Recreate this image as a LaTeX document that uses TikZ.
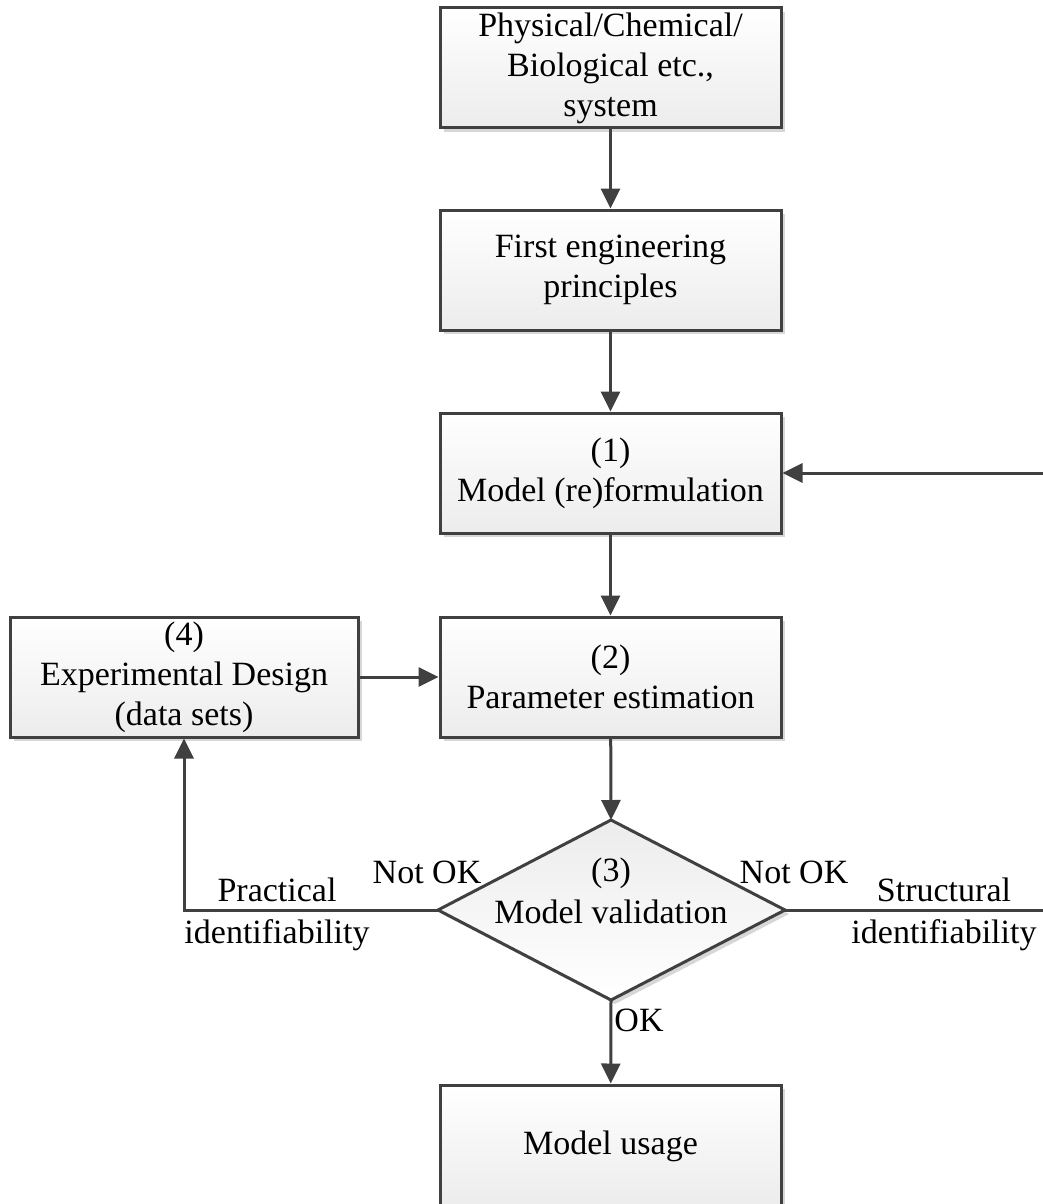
\documentclass[tikz,border=0pt]{standalone}
\usepackage{fontspec}
\setmainfont{Liberation Serif}
\usetikzlibrary{arrows.meta,shadows}
\definecolor{linecol}{RGB}{64,64,64}
\definecolor{boxbot}{RGB}{236,236,236}
\definecolor{shadecol}{RGB}{215,215,215}
\begin{document}
\begin{tikzpicture}[x=1pt,y=-1pt,
  line/.style={draw=linecol, line width=3pt},
  softshadow/.style={drop shadow={shadow xshift=4pt, shadow yshift=-4pt, fill=shadecol, opacity=1}},
  box/.style={line, top color=white, bottom color=boxbot, softshadow,
    minimum width=341pt, minimum height=120pt, inner sep=0pt, align=center,
    font=\fontsize{34}{40}\selectfont},
  arr/.style={line, -{Triangle[length=20pt,width=19pt]}},
  lbl/.style={font=\fontsize{34}{42}\selectfont, align=center, inner sep=0pt}]

\useasboundingbox[fill=white] (0,0) rectangle (1043,1204);

% main column of process boxes
\node[box] (sys) at (610.5,68)  {Physical/Chemical/\\Biological etc.,\\system};
\node[box] (fep) at (610.5,270) {First engineering\\principles};
\node[box] (mf)  at (610.5,473) {(1)\\Model (re)formulation};
\node[box] (pe)  at (610.5,677) {(2)\\Parameter estimation};
\node[box, minimum width=348pt] (exp) at (184,677) {(4)\\Experimental Design\\(data sets)};
\node[box, minimum height=122pt] (mu) at (610.5,1146) {Model usage};

% decision diamond
\coordinate (dt) at (611,820);
\coordinate (dr) at (785,910);
\coordinate (db) at (611,1000);
\coordinate (dl) at (438,910);
\path[line, top color=boxbot, bottom color=white, softshadow]
  (dt) -- (dr) -- (db) -- (dl) -- cycle;
\node[lbl] (dv) at (611,891) {(3)\\Model validation};

% connectors
\draw[arr] (sys) -- (fep);
\draw[arr] (fep) -- (mf);
\draw[arr] (mf) -- (pe);
\draw[arr] (exp) -- (pe);
\draw[arr] (pe) -- (dt);
\draw[arr] (db) -- (mu);
\draw[arr] (dl) -| (exp);
\coordinate (edge) at (1048,0);
\draw[arr] (dr) -- (dr -| edge) |- (mf.east);

% branch labels
\node[lbl] (nokl) at (427,872) {Not OK};
\node[lbl] (nokr) at (794,872) {Not OK};
\node[lbl] (ok)   at (639,1020) {OK};
\node[lbl] (prac) at (277,914) {Practical\\identifiability};
\node[lbl] (struc) at (944,914) {Structural\\identifiability};
\end{tikzpicture}
\end{document}
